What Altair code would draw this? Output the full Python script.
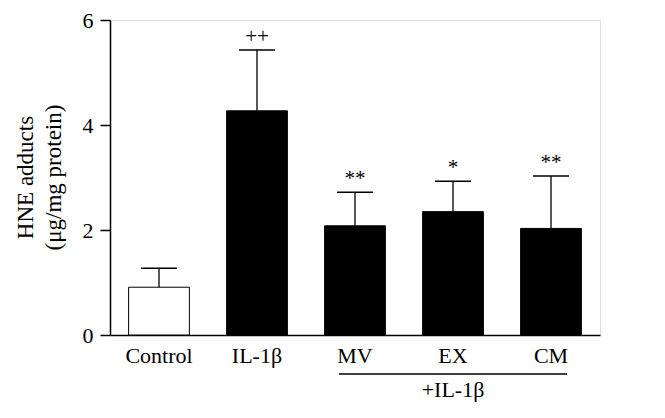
import altair as alt
import pandas as pd

categories = ["Control", "IL-1β", "MV", "EX", "CM"]
means = [0.91, 4.27, 2.08, 2.35, 2.03]
sds = [0.36, 1.16, 0.64, 0.58, 1.00]
marks = ["", "++", "**", "*", "**"]
fills = ["white", "black", "black", "black", "black"]

df = pd.DataFrame({
    "cat": categories,
    "mean": means,
    "upper": [m + s for m, s in zip(means, sds)],
    "mark": marks,
    "fill": fills,
})

FONT = "Liberation Serif"
xscale = alt.Scale(domain=categories, paddingInner=0.38, paddingOuter=0.19)

x = alt.X("cat:N", scale=xscale,
          axis=alt.Axis(title=None, labelAngle=0, ticks=False, labelFont=FONT,
                        labelFontSize=22, labelColor="black", labelPadding=10,
                        domainColor="black", domainWidth=1.5))
y = alt.Y("mean:Q", scale=alt.Scale(domain=[0, 6]),
          axis=alt.Axis(values=[0, 2, 4, 6], title=["HNE adducts", "(μg/mg protein)"],
                        grid=False, tickSize=10, tickColor="black", tickWidth=1.5,
                        domainColor="black", domainWidth=1.5, labelFont=FONT,
                        labelFontSize=22, labelColor="black", labelPadding=7,
                        titleFont=FONT, titleFontSize=23, titleFontWeight="normal",
                        titleColor="black", titleX=-85, titleY=157,
                        titleAlign="center", titleBaseline="middle", titleLineHeight=28))

base = alt.Chart(df)

err = base.mark_rule(color="black", strokeWidth=1.3).encode(x=x, y=alt.Y("mean:Q"), y2="upper:Q")
cap = base.mark_rule(color="black", strokeWidth=1.5, xOffset=-18, x2Offset=18).encode(
    x=x, x2="cat:N", y=alt.Y("upper:Q"))
bars = base.mark_bar(stroke="black", strokeWidth=1).encode(
    x=x, y=y, fill=alt.Fill("fill:N", scale=None))
txt = base.mark_text(font=FONT, fontSize=21, baseline="bottom", dy=-3, color="black").encode(
    x=x, y=alt.Y("upper:Q"), text="mark:N")

brk_df = pd.DataFrame({"a": ["MV"], "b": ["CM"], "c": ["EX"], "t": ["+IL-1β"]})
bracket = alt.Chart(brk_df).mark_rule(color="black", strokeWidth=1.3, xOffset=-16, x2Offset=16).encode(
    x=alt.X("a:N", scale=xscale), x2="b:N", y=alt.value(354))
brlabel = alt.Chart(brk_df).mark_text(font=FONT, fontSize=22, color="black", baseline="middle").encode(
    x=alt.X("c:N", scale=xscale), y=alt.value(370), text="t:N")

chart = alt.layer(err, cap, bars, txt, bracket, brlabel).properties(
    width=490, height=315,
    autosize=alt.AutoSizeParams(type="none"),
    padding={"left": 102, "top": 12, "right": 55, "bottom": 75},
).configure_view(stroke=None).configure(background="white")

chart.save("out.html", embed_options={"renderer": "svg", "actions": False})
